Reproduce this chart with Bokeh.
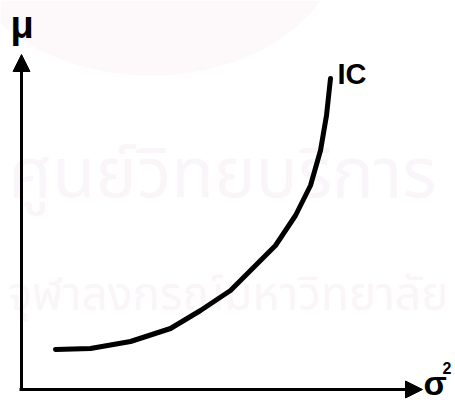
from bokeh.plotting import figure
from bokeh.models import Range1d, Arrow, NormalHead, Label
from bokeh.embed import file_html
from bokeh.resources import INLINE

# Indifference curve in mean-variance space (sigma^2 across, mu up)
sigma2 = [55, 90, 130, 170, 200, 230, 255, 275, 295, 310, 320, 326, 330]
mu = [51, 52, 59, 72, 90, 110, 135, 155, 185, 215, 250, 285, 322]

# Axis extents (origin and arrow tips)
origin = (19, 11)
x_tip = 422
y_tip = 346

curve_label = "IC"
x_label = "σ"
x_label_sup = "2"
y_label = "μ"
mark_lines = ["ศูนย์วิทยบริการ", "จุฬาลงกรณ์มหาวิทยาลัย"]

p = figure(width=455, height=400, output_backend="svg", toolbar_location=None,
           x_range=Range1d(0, 455), y_range=Range1d(0, 400),
           min_border=0, outline_line_color=None)
p.axis.visible = False
p.grid.visible = False
p.background_fill_color = "white"
p.border_fill_color = "white"

# faint seal and library stamp behind the drawing
thai = {"value": "Noto Sans Thai, Loma, Garuda, sans-serif"}
p.ellipse(x=[150], y=[460], width=[380], height=[270], fill_color="#fdf9fa",
          line_color=None)
p.text(x=[8], y=[172], text=[mark_lines[0]], text_font_size="70px",
       text_color="#faf5f8", text_baseline="bottom", text_font=thai)
p.text(x=[448], y=[70], text=[mark_lines[1]], text_font_size="46px",
       text_color="#faf5f8", text_baseline="bottom", text_align="right",
       text_font=thai)

# axes with arrowheads
head = dict(size=17, fill_color="black", line_color="black")
p.add_layout(Arrow(end=NormalHead(**head), x_start=origin[0], y_start=origin[1],
                   x_end=x_tip, y_end=origin[1], line_width=3, line_color="black"))
p.add_layout(Arrow(end=NormalHead(**head), x_start=origin[0] + 2, y_start=origin[1],
                   x_end=origin[0] + 2, y_end=y_tip, line_width=3, line_color="black"))

# the curve
p.line(sigma2, mu, line_width=5, line_color="black", line_cap="round",
       line_join="round")

font = "Liberation Sans"
p.add_layout(Label(x=337, y=327, text=curve_label, text_font=font,
                   text_font_style="bold", text_font_size="29px",
                   text_color="black", text_baseline="alphabetic"))
p.add_layout(Label(x=10, y=376, text=y_label, text_font=font,
                   text_font_style="bold", text_font_size="38px",
                   text_color="black", text_baseline="alphabetic"))
p.add_layout(Label(x=423, y=18, text=x_label, text_font=font,
                   text_font_style="bold", text_font_size="34px",
                   text_color="black", text_baseline="alphabetic"))
p.add_layout(Label(x=442, y=33, text=x_label_sup, text_font=font,
                   text_font_style="bold", text_font_size="16px",
                   text_color="black", text_baseline="alphabetic"))

open("out.html", "w").write(file_html(p, INLINE))
